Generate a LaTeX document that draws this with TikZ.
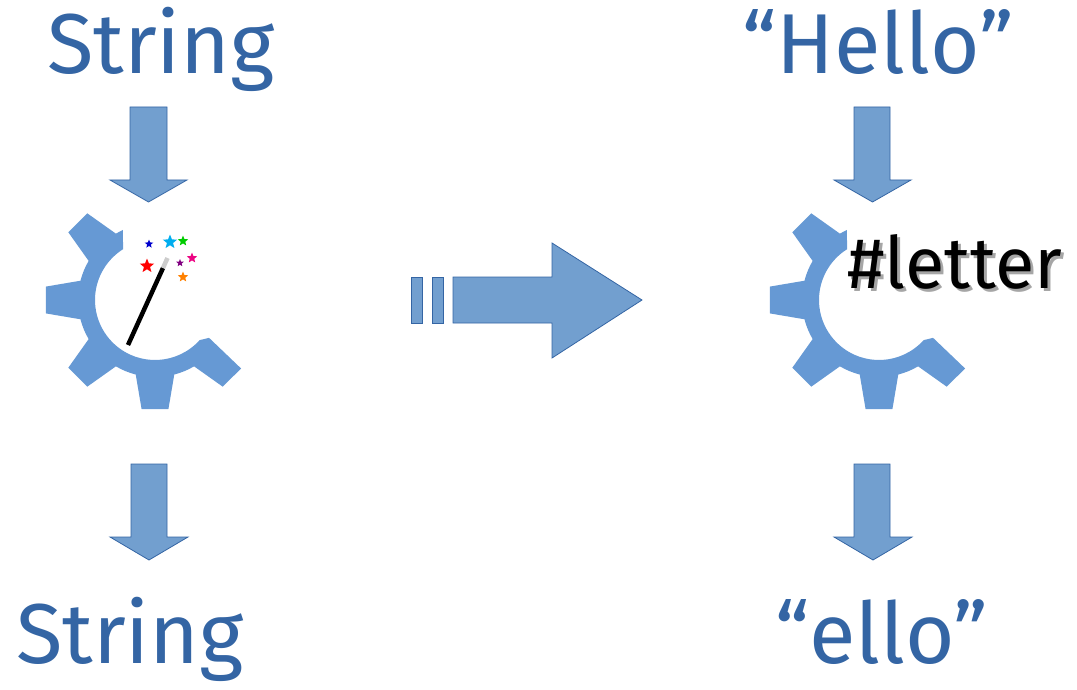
\documentclass[tikz,border=0pt]{standalone}
\usepackage{fontspec}
\setmainfont{Fira Sans}
\usetikzlibrary{shapes.geometric}
\definecolor{txtblue}{HTML}{3465A4}
\definecolor{arrfill}{HTML}{729FCF}
\definecolor{arrdraw}{HTML}{3465A4}
\definecolor{gearblue}{HTML}{6699D4}
\tikzset{
  blockarrow/.style={fill=arrfill, draw=arrdraw, line width=0.8pt, line join=miter},
  bigtext/.style={text=txtblue, font=\fontsize{85}{90}\selectfont, anchor=base, inner sep=0pt},
  geartxt/.style={font=\fontsize{72}{75}\selectfont, anchor=base, inner sep=0pt},
  gearfill/.style={fill=gearblue},
  sparkle/.style={star, star points=5, star point ratio=2.3, inner sep=0pt, draw=none},
}
\newcommand{\gearoutline}{%
 (114.6:77) arc[start angle=114.6,end angle=120.5,radius=77]
 -- (128:110) -- (142:110) -- (149.5:77) arc[start angle=149.5,end angle=165.5,radius=77]
 -- (173:110) -- (187:110) -- (194.5:77) arc[start angle=194.5,end angle=210.5,radius=77]
 -- (218:110) -- (232:110) -- (239.5:77) arc[start angle=239.5,end angle=255.5,radius=77]
 -- (263:110) -- (277:110) -- (284.5:77) arc[start angle=284.5,end angle=300.5,radius=77]
 -- (308:110) -- (321.5:110) -- (325:66) -- (318:60) arc[start angle=318,end angle=122.2,radius=60] -- cycle}
\newcommand{\shadowed}[1]{\makebox[0pt][l]{\hspace{3pt}\raisebox{-3pt}{\color{black!35}#1}}#1}
\begin{document}
\begin{tikzpicture}[x=1pt,y=-1pt]
\useasboundingbox (0,0) rectangle (1077,690);
% texts
\node[bigtext] (strin) at (161,74) {String};
\node[bigtext] (strout) at (130,663) {String};
\node[bigtext] (hello) at (878,74) {“Hello”};
\node[bigtext] (ello) at (882,663) {“ello”};
% arrows left
\fill[blockarrow] (130,107) -- (167,107) -- (167,180) -- (187,180) -- (148.5,202) -- (110,180) -- (130,180) -- cycle;
\fill[blockarrow] (131,464) -- (167,464) -- (167,537) -- (188,537) -- (149,560) -- (110,537) -- (131,537) -- cycle;
% arrows right
\fill[blockarrow] (854,107) -- (890,107) -- (890,180) -- (911,180) -- (872.5,202) -- (834,180) -- (854,180) -- cycle;
\fill[blockarrow] (854,464) -- (890,464) -- (890,537) -- (912,537) -- (873,560) -- (834,537) -- (854,537) -- cycle;
% middle arrow
\fill[blockarrow] (411,277) rectangle (422,323);
\fill[blockarrow] (432,277) rectangle (443,323);
\fill[blockarrow] (453,277) -- (552,277) -- (552,243) -- (642,300) -- (552,358) -- (552,323) -- (453,323) -- cycle;
% gears
\begin{scope}[shift={(155,300)},yscale=-1]
  \fill[gearfill] \gearoutline;
\end{scope}
\begin{scope}[shift={(879,300)},yscale=-1]
  \fill[gearfill] \gearoutline;
\end{scope}
% wand
\draw[line width=4.5pt, black] (128,345) -- (163,268);
\draw[line width=4.5pt, black!20] (163,268) -- (167.5,258);
% sparkles
\node[sparkle, fill=blue!80!black, minimum size=9pt] (s1) at (149,244) {};
\node[sparkle, fill=cyan, minimum size=15pt] (s2) at (170,242) {};
\node[sparkle, fill=green!80!black, minimum size=11pt] (s3) at (183,241) {};
\node[sparkle, fill=red, minimum size=15pt] (s4) at (147,266) {};
\node[sparkle, fill=violet, minimum size=8pt] (s5) at (180,263) {};
\node[sparkle, fill=magenta!90!red, minimum size=11pt] (s6) at (192,258) {};
\node[sparkle, fill=orange, minimum size=11pt] (s7) at (183,277) {};
% #letter
\node[geartxt, text=black] (letter) at (955,288) {\shadowed{\#letter}};
\end{tikzpicture}
\end{document}
